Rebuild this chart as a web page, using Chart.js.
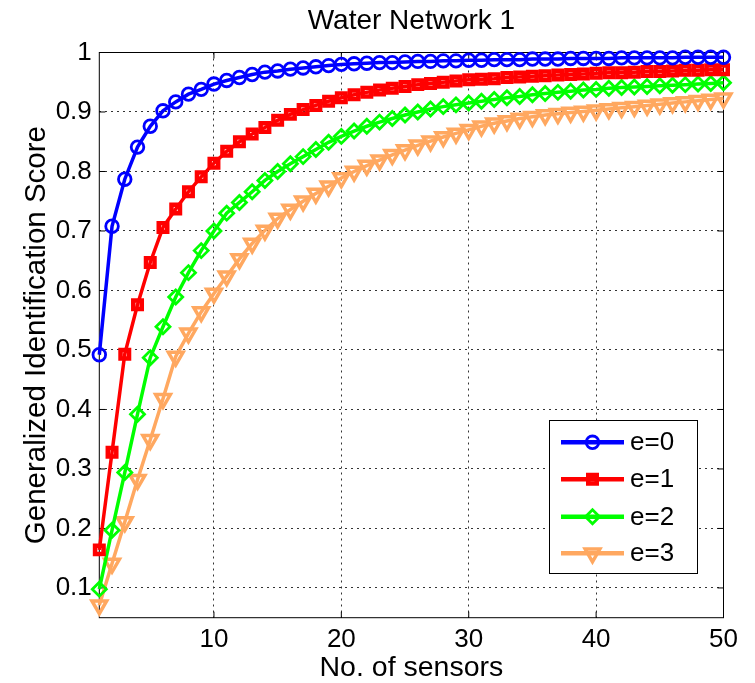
<!DOCTYPE html>
<html lang="en">
<head>
    <meta charset="UTF-8">
    <title>Water Network 1</title>
    <script src="https://cdn.jsdelivr.net/npm/chart.js@4.4.0/dist/chart.umd.min.js"></script>
    <style>
        body { margin: 0; background: #fff; }
        canvas { display: block; }
    </style>
</head>
<body>
    <canvas id="scoreChart" width="755" height="683"></canvas>

    <script>
        const sensors = [1, 2, 3, 4, 5, 6, 7, 8, 9, 10, 11, 12, 13, 14, 15, 16, 17, 18, 19, 20,
            21, 22, 23, 24, 25, 26, 27, 28, 29, 30, 31, 32, 33, 34, 35, 36, 37, 38, 39, 40,
            41, 42, 43, 44, 45, 46, 47, 48, 49, 50];

        const e0 = [0.492, 0.708, 0.787, 0.841, 0.876, 0.902, 0.917, 0.930, 0.938, 0.947,
            0.953, 0.958, 0.963, 0.967, 0.969, 0.972, 0.974, 0.976, 0.978, 0.980,
            0.981, 0.982, 0.983, 0.983, 0.984, 0.985, 0.985, 0.986, 0.986, 0.987,
            0.987, 0.988, 0.988, 0.988, 0.989, 0.989, 0.989, 0.990, 0.990, 0.990,
            0.990, 0.991, 0.991, 0.991, 0.991, 0.991, 0.992, 0.992, 0.992, 0.992];
        const e1 = [0.164, 0.328, 0.493, 0.576, 0.647, 0.706, 0.737, 0.766, 0.791, 0.814,
            0.834, 0.850, 0.863, 0.874, 0.886, 0.896, 0.904, 0.911, 0.918, 0.924,
            0.929, 0.933, 0.937, 0.940, 0.943, 0.946, 0.948, 0.950, 0.952, 0.954,
            0.955, 0.956, 0.958, 0.959, 0.960, 0.961, 0.962, 0.963, 0.964, 0.965,
            0.966, 0.966, 0.967, 0.968, 0.968, 0.969, 0.970, 0.970, 0.971, 0.971];
        const e2 = [0.098, 0.197, 0.294, 0.392, 0.487, 0.539, 0.589, 0.630, 0.667, 0.700,
            0.730, 0.748, 0.766, 0.785, 0.800, 0.813, 0.825, 0.837, 0.849, 0.859,
            0.868, 0.876, 0.883, 0.889, 0.895, 0.900, 0.905, 0.909, 0.912, 0.915,
            0.918, 0.921, 0.924, 0.926, 0.929, 0.931, 0.933, 0.935, 0.937, 0.938,
            0.940, 0.941, 0.942, 0.943, 0.944, 0.945, 0.946, 0.947, 0.948, 0.949];
        const e3 = [0.071, 0.141, 0.211, 0.282, 0.349, 0.418, 0.489, 0.528, 0.564, 0.595,
            0.624, 0.653, 0.679, 0.701, 0.721, 0.736, 0.750, 0.763, 0.775, 0.789,
            0.800, 0.810, 0.819, 0.828, 0.836, 0.844, 0.851, 0.858, 0.864, 0.870,
            0.876, 0.881, 0.885, 0.889, 0.892, 0.895, 0.897, 0.899, 0.901, 0.903,
            0.905, 0.907, 0.909, 0.911, 0.913, 0.915, 0.917, 0.919, 0.921, 0.923];

        const xTicks = [10, 20, 30, 40, 50];
        const yTicks = [0.1, 0.2, 0.3, 0.4, 0.5, 0.6, 0.7, 0.8, 0.9, 1];
        const labels = ['e=0', 'e=1', 'e=2', 'e=3'];

        const FONT = "'Liberation Sans', Arial, sans-serif";
        Chart.defaults.font.family = FONT;
        Chart.defaults.color = '#000';

        const styles = [
            { color: '#0000ff', pointStyle: 'circle', radius: 6.3, border: 2.8, rotation: 0 },
            { color: '#ff0000', pointStyle: 'rect', radius: 6, border: 4.5, rotation: 0 },
            { color: '#00ff00', pointStyle: 'rectRot', radius: 7, border: 2.8, rotation: 0 },
            { color: '#ffa860', pointStyle: 'triangle', radius: 8.5, border: 3.5, rotation: 180 }
        ];

        function makeDataset(i, values) {
            const s = styles[i];
            return {
                label: labels[i],
                data: sensors.map((x, k) => ({ x: x, y: values[k] })),
                borderColor: s.color,
                borderWidth: 3.5,
                pointStyle: s.pointStyle,
                pointRadius: s.radius,
                pointBorderWidth: s.border,
                pointRotation: s.rotation,
                pointBorderColor: s.color,
                pointBackgroundColor: 'rgba(0,0,0,0)',
                tension: 0,
                clip: false
            };
        }

        // box around the axes with inward ticks, like the original figure
        const axesBox = {
            id: 'axesBox',
            beforeDatasetsDraw(chart) {
                const { ctx, chartArea: a, scales } = chart;
                ctx.save();
                ctx.strokeStyle = '#000';
                ctx.lineWidth = 1;
                ctx.setLineDash([]);
                ctx.strokeRect(a.left, a.top, a.right - a.left, a.bottom - a.top);
                ctx.beginPath();
                xTicks.forEach(v => {
                    const px = scales.x.getPixelForValue(v);
                    ctx.moveTo(px, a.bottom); ctx.lineTo(px, a.bottom - 6);
                    ctx.moveTo(px, a.top); ctx.lineTo(px, a.top + 6);
                });
                yTicks.forEach(v => {
                    const py = scales.y.getPixelForValue(v);
                    ctx.moveTo(a.left, py); ctx.lineTo(a.left + 6, py);
                    ctx.moveTo(a.right, py); ctx.lineTo(a.right - 6, py);
                });
                ctx.stroke();
                ctx.restore();
            }
        };

        // legend box in the lower right of the axes
        const boxLegend = {
            id: 'boxLegend',
            afterDatasetsDraw(chart) {
                const ctx = chart.ctx;
                const bx = 549.5, by = 420.5, bw = 148, bh = 153;
                const rows = [442.3, 479.3, 516.7, 553.3];
                ctx.save();
                ctx.fillStyle = '#fff';
                ctx.fillRect(bx, by, bw, bh);
                ctx.strokeStyle = '#000';
                ctx.lineWidth = 1;
                ctx.strokeRect(bx, by, bw, bh);
                labels.forEach((lab, i) => {
                    const s = styles[i];
                    const y = rows[i];
                    ctx.strokeStyle = s.color;
                    ctx.lineWidth = 4.5;
                    ctx.beginPath();
                    ctx.moveTo(561, y); ctx.lineTo(624, y);
                    ctx.stroke();
                    ctx.lineWidth = s.border;
                    ctx.fillStyle = 'rgba(0,0,0,0)';
                    Chart.helpers.drawPoint(ctx, {
                        pointStyle: s.pointStyle, radius: s.radius,
                        rotation: s.rotation, borderWidth: s.border
                    }, 592.5, y);
                    ctx.fillStyle = '#000';
                    ctx.font = '26px ' + FONT;
                    ctx.textBaseline = 'middle';
                    ctx.textAlign = 'left';
                    ctx.fillText(lab, 630, y + 1);
                });
                ctx.restore();
            }
        };

        const chart = new Chart(document.getElementById('scoreChart'), {
            type: 'line',
            data: {
                datasets: [makeDataset(0, e0), makeDataset(1, e1), makeDataset(2, e2), makeDataset(3, e3)]
            },
            options: {
                responsive: false,
                animation: false,
                layout: { padding: { left: 0, right: 31.5, top: 0, bottom: 0 } },
                plugins: {
                    legend: { display: false },
                    tooltip: { enabled: false },
                    title: {
                        display: true,
                        fullSize: false,
                        text: 'Water Network 1',
                        color: '#000',
                        font: { size: 28, weight: 'normal' },
                        padding: { top: 4, bottom: 14.9 }
                    }
                },
                scales: {
                    x: {
                        type: 'linear',
                        min: 1,
                        max: 50,
                        afterBuildTicks: axis => { axis.ticks = xTicks.map(v => ({ value: v })); },
                        afterFit: axis => { axis.height = 65.3; },
                        grid: { color: '#333', lineWidth: 1, drawTicks: false },
                        border: { display: false, dash: [2, 4] },
                        ticks: { font: { size: 26 }, color: '#000', padding: 7, maxRotation: 0, autoSkip: false },
                        title: {
                            display: true, text: 'No. of sensors', color: '#000',
                            font: { size: 28.5 }, padding: { top: 0, bottom: -2 }
                        }
                    },
                    y: {
                        min: 0.05,
                        max: 1,
                        afterBuildTicks: axis => { axis.ticks = yTicks.map(v => ({ value: v })); },
                        afterFit: axis => { axis.width = 99.3; },
                        grid: { color: '#333', lineWidth: 1, drawTicks: false },
                        border: { display: false, dash: [2, 4] },
                        ticks: {
                            font: { size: 26 }, color: '#000', padding: 7.5, autoSkip: false,
                            callback: v => (v === 1 ? '1' : v.toFixed(1))
                        },
                        title: {
                            display: true, text: 'Generalized Identification Score', color: '#000',
                            font: { size: 29.5 }, padding: { top: 19, bottom: 0 }
                        }
                    }
                }
            },
            plugins: [axesBox, boxLegend]
        });
    </script>
</body>
</html>
